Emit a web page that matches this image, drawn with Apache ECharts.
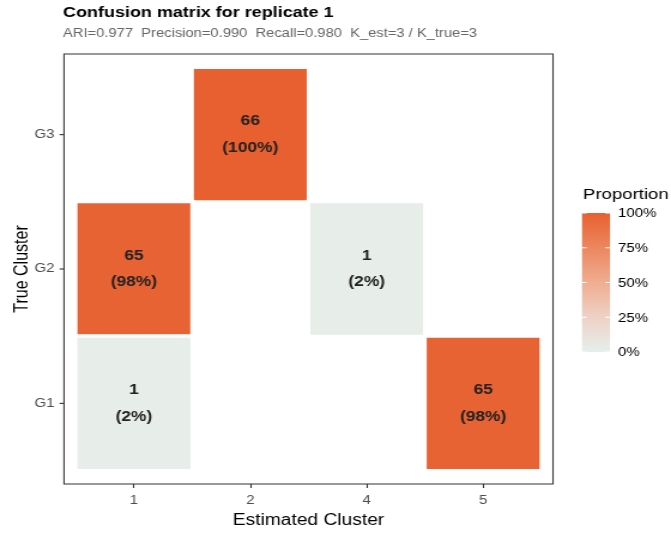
<!DOCTYPE html>
<html><head><meta charset="utf-8">
<script src="https://cdn.jsdelivr.net/npm/echarts@6/dist/echarts.min.js"></script>
<style>html,body{margin:0;padding:0;background:#fff;overflow:hidden}
#wrap{width:671px;height:533px;overflow:hidden}
#c{width:560px;height:533px;transform:scaleX(1.1982);transform-origin:0 0}</style>
</head><body><div id="wrap"><div id="c"></div></div>
<script>
var xCategories = ['1','2','4','5'];
var yCategories = ['G1','G2','G3'];
var cellX = ['2','1','4','1','5'];
var cellY = ['G3','G2','G2','G1','G1'];
var counts = [66,65,1,1,65];
var percents = [100,98,2,2,98];
var legendTicks = [0,25,50,75,100];
var legendTickLabels = ['0%','25%','50%','75%','100%'];
var palette = ['#E6EFEC','#EED2C6','#F0AD90','#EC875F','#E8602F'];

var data = cellX.map(function(x,i){
  return [xCategories.indexOf(x), yCategories.indexOf(cellY[i]), percents[i], counts[i]];
});

var FONT = '"Liberation Sans", Arial, sans-serif';
// layout in unstretched units; the canvas is stretched horizontally like the reference
var S = 1.1982;
var panel = {x:64/S, y:54, w:489/S, h:430};
var xUnit = panel.w/4.2, yUnit = panel.h/3.2;
var gLeft = panel.x + 0.1*xUnit, gTop = panel.y + 0.1*yUnit;
var gW = panel.w - 0.2*xUnit, gH = panel.h - 0.2*yUnit;
var bar = {x:582/S, y:213, w:28/S, h:139};

var stops = palette.map(function(c,i){ return {offset: 1 - i/(palette.length-1), color:c}; })
  .sort(function(a,b){ return a.offset - b.offset; });
var graphics = [
  {type:'rect', shape:{x:panel.x, y:panel.y, width:panel.w, height:panel.h}, style:{fill:'none', stroke:'#333', lineWidth:1.1}, z:10},
  {type:'text', left:63/S, top:5, style:{text:'Confusion matrix for replicate 1', font:'bold 15px '+FONT, fill:'#000'}},
  {type:'text', left:63/S, top:28, style:{text:'ARI=0.977  Precision=0.990  Recall=0.980  K_est=3 / K_true=3', font:'12.3px '+FONT, fill:'#666'}},
  {type:'text', left:583/S, top:187, style:{text:'Proportion', font:'15.5px '+FONT, fill:'#000'}},
  {type:'rect', shape:{x:bar.x, y:bar.y, width:bar.w, height:bar.h},
   style:{fill:new echarts.graphic.LinearGradient(0,0,0,1, stops)}, z:5}
];
legendTicks.forEach(function(t,i){
  var y = bar.y + bar.h - t/100*bar.h;
  graphics.push({type:'rect', shape:{x:bar.x, y:y-0.5, width:4, height:1}, style:{fill:'#fff'}, z:20});
  graphics.push({type:'rect', shape:{x:bar.x+bar.w-4, y:y-0.5, width:4, height:1}, style:{fill:'#fff'}, z:20});
  graphics.push({type:'text', x:618/S, y:y+1, style:{text:legendTickLabels[i], font:'12.5px '+FONT, fill:'#000', textVerticalAlign:'middle', verticalAlign:'middle'}});
});

var chart = echarts.init(document.getElementById('c'), null, {renderer:'canvas'});
chart.setOption({
  animation:false,
  backgroundColor:'#fff',
  textStyle:{fontFamily:FONT},
  grid:{left:gLeft, top:gTop, width:gW, height:gH, containLabel:false, outerBoundsMode:'none'},
  xAxis:{type:'category', data:xCategories, offset: panel.y+panel.h-(gTop+gH),
    axisLine:{show:false}, axisTick:{show:true, inside:false, alignWithLabel:true, length:4, lineStyle:{color:'#333', width:1.1}},
    axisLabel:{color:'#4D4D4D', fontSize:12.5, margin:10},
    splitLine:{show:false},
    name:'Estimated Cluster', nameLocation:'middle', nameGap:29, nameMoveOverlap:false, nameTextStyle:{color:'#000', fontSize:16}},
  yAxis:{type:'category', data:yCategories, offset: gLeft-panel.x,
    axisLine:{show:false}, axisTick:{show:false},
    axisLabel:{color:'#4D4D4D', fontSize:12.5, margin:8},
    splitLine:{show:false},
    name:'True Cluster', nameLocation:'middle', nameGap:27, nameMoveOverlap:false, nameTextStyle:{color:'#000', fontSize:16}},
  visualMap:{type:'continuous', min:0, max:100, dimension:2, show:false, inRange:{color:palette}},
  graphic: graphics,
  series:[{type:'heatmap', data:data,
    itemStyle:{borderColor:'#fff', borderWidth:3.5},
    label:{show:true, formatter:function(p){return p.data[3]+'\n('+p.data[2]+'%)';},
      fontSize:14.5, fontWeight:'bold', color:'#222', lineHeight:26.5},
    emphasis:{disabled:true}}]
});
// y-axis tick marks positioned through the axis scale
var yTicks = yCategories.map(function(c){
  var py = chart.convertToPixel({yAxisIndex:0}, c);
  return {type:'rect', shape:{x:panel.x-3.7, y:py-0.55, width:3.7, height:1.1}, style:{fill:'#333'}, z:50};
});
chart.setOption({graphic: graphics.concat(yTicks)});
</script></body></html>
